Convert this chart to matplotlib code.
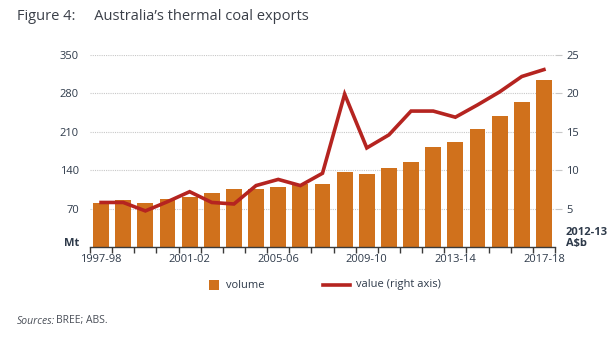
import matplotlib
matplotlib.use("Agg")
import matplotlib.pyplot as plt
from matplotlib.lines import Line2D
from matplotlib.patches import Rectangle
import numpy as np

plt.rcParams['font.family'] = ['Open Sans', 'DejaVu Sans']

years = ["1997-98", "1998-99", "1999-00", "2000-01", "2001-02", "2002-03", "2003-04",
         "2004-05", "2005-06", "2006-07", "2007-08", "2008-09", "2009-10", "2010-11",
         "2011-12", "2012-13", "2013-14", "2014-15", "2015-16", "2016-17", "2017-18"]
volume_mt = [80, 85, 80, 87, 91, 98, 105, 106, 110, 114, 114, 136, 133, 144, 155,
             182, 191, 215, 239, 264, 304]
value_bn = [5.8, 5.8, 4.7, 5.9, 7.2, 5.8, 5.6, 8.0, 8.8, 8.0, 9.6, 19.9, 12.9, 14.6,
            17.7, 17.7, 16.9, 18.5, 20.2, 22.2, 23.1]
left_ticks = [70, 140, 210, 280, 350]
right_ticks = [5, 10, 15, 20, 25]

BAR = "#d0711c"
LINE = "#b52420"
TXT = "#2e3a4a"
GRID = "#c8c8c8"

W, H = 615, 338
fig = plt.figure(figsize=(W / 100, H / 100), dpi=100)
ax = fig.add_axes([90 / W, 1 - 247 / H, 465 / W, 192 / H])
ax2 = ax.twinx()

x = np.arange(len(years))
ax.bar(x, volume_mt, width=0.72, color=BAR, zorder=2)
ax.set_ylim(0, 350)
ax.set_xlim(-0.5, len(years) - 0.5)
ax.set_yticks(left_ticks)
ax.yaxis.grid(True, color=GRID, linestyle=(0, (1, 1)), linewidth=0.8, zorder=0)
ax.set_axisbelow(True)

ax2.plot(x, value_bn, color=LINE, linewidth=2.6, solid_joinstyle='miter', zorder=3)
ax2.set_ylim(0, 25)
ax2.set_yticks(right_ticks)

# x axis: labels every fourth year, tick marks between bars
ax.set_xticks(x[::4])
ax.set_xticklabels([years[i] for i in x[::4]])
ax.set_xticks(np.arange(-0.5, len(years), 1.0), minor=True)
ax.tick_params(axis='x', which='major', length=0, pad=5, labelsize=8, labelcolor=TXT)
ax.tick_params(axis='x', which='minor', length=4, width=1, color="#3a3a3a", direction='out')
ax.tick_params(axis='y', length=0, pad=8, labelsize=8, labelcolor=TXT)
ax2.tick_params(axis='y', length=5, width=0.8, color=GRID, pad=3, labelsize=8, labelcolor=TXT)

for a in (ax, ax2):
    for s in ("top", "left", "right"):
        a.spines[s].set_visible(False)
ax.spines["bottom"].set_color("#3a3a3a")
ax.spines["bottom"].set_linewidth(1.0)
ax2.spines["bottom"].set_visible(False)

fig.text(79 / W, 1 - 243 / H, "Mt", ha='right', va='center', fontsize=8,
         fontweight='bold', color=TXT)
fig.text(566 / W, 1 - 238 / H, "2012-13\nA$b", ha='left', va='center', fontsize=8,
         fontweight='bold', color=TXT, linespacing=0.95)

fig.text(17 / W, 1 - 16 / H, "Figure 4:     Australia\u2019s thermal coal exports",
         ha='left', va='center', fontsize=10.5, color="#3a3f48")
fig.text(17 / W, 1 - 321 / H, "Sources:", ha='left', va='center', fontsize=7.5,
         color="#4a4f58", style='italic')
fig.text(56 / W, 1 - 321 / H, "BREE; ABS.", ha='left', va='center', fontsize=7.5,
         color="#4a4f58")

# legend row
ly = 1 - 285 / H
fig.add_artist(Rectangle((209 / W, ly - 5 / H), 10 / W, 10 / H, transform=fig.transFigure,
                         facecolor=BAR, edgecolor='none'))
fig.text(226 / W, ly, "volume", ha='left', va='center', fontsize=8, color=TXT)
fig.add_artist(Line2D([323 / W, 350 / W], [ly, ly], transform=fig.transFigure,
                      color=LINE, linewidth=2.6))
fig.text(356 / W, ly, "value (right axis)", ha='left', va='center', fontsize=8, color=TXT)

fig.savefig("out.png", dpi=100)
